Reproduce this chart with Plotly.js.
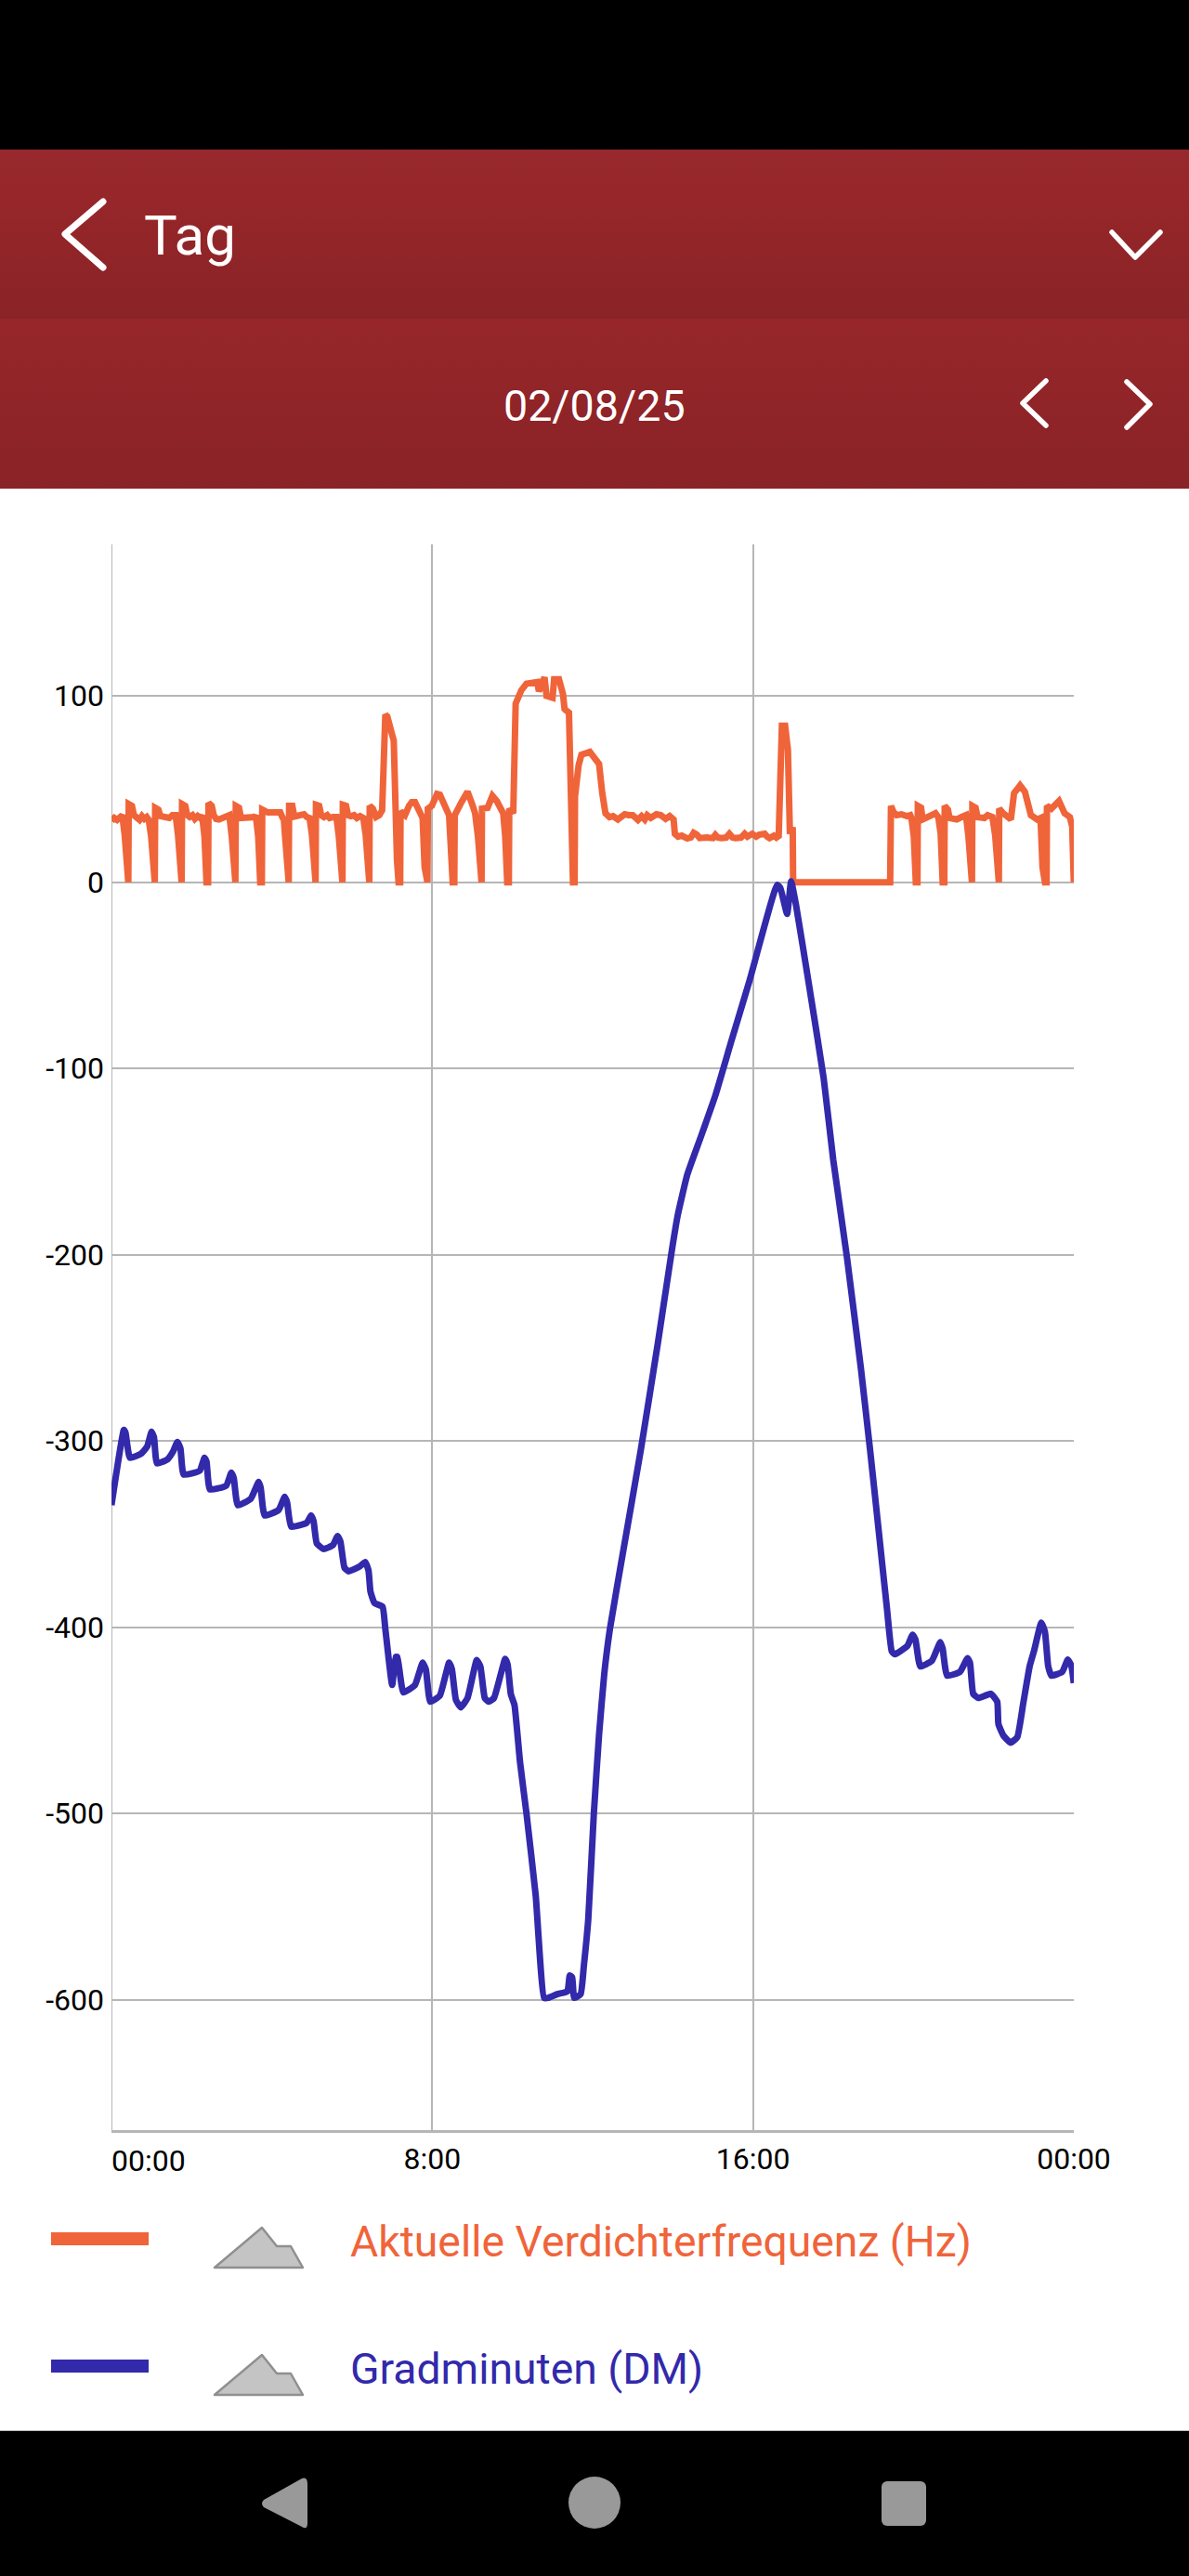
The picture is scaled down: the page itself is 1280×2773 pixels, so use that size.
<!DOCTYPE html>
<html lang="de">
<head>
<meta charset="utf-8">
<title>Tag 02/08/25</title>
<script src="https://cdn.plot.ly/plotly-3.0.1.min.js"></script>
<style>
html,body{margin:0;padding:0;background:#fff;width:1280px;height:2773px;overflow:hidden}
.abs{position:absolute;left:0;width:1280px}
#chart{position:absolute;left:0;top:0;width:1280px;height:2773px}
svg.chrome{position:absolute;left:0;top:0}
</style>
</head>
<body>
<div class="abs" style="top:0;height:161px;background:#000"></div>
<div class="abs" style="top:161px;height:182px;background:linear-gradient(#97282d,#962629 30%,#8a2327)"></div>
<div class="abs" style="top:343px;height:183px;background:linear-gradient(#962629,#8a2327)"></div>
<div class="abs" style="top:2616px;height:157px;background:#000;border-top:1px solid #bbb;box-sizing:border-box"></div>
<svg class="chrome" width="1280" height="2773" viewBox="0 0 1280 2773">
  <g fill="none" stroke="#fff" stroke-linecap="round" stroke-linejoin="round">
    <path d="M111 217 L70 252 L111 288" stroke-width="7"/>
    <path d="M1197 250 L1222 277 L1249 250" stroke-width="5.5"/>
    <path d="M1126 410 L1101 434 L1126 458" stroke-width="5.5"/>
    <path d="M1213 411 L1238 435 L1213 460" stroke-width="5.5"/>
  </g>
  <rect x="55" y="2403" width="105" height="14" fill="#f0643a"/>
  <rect x="55" y="2540" width="105" height="14" fill="#3229ab"/>
  <g fill="#c4c4c4" stroke="#8f8f8f" stroke-width="2.5" stroke-linejoin="round">
    <path d="M282 2398 L298 2418 L313 2418 L326 2441 L231 2441 Z"/>
    <path d="M282 2535 L298 2555 L313 2555 L326 2578 L231 2578 Z"/>
  </g>
  <g fill="#999">
    <path d="M325 2668 Q331 2666 331 2674 L331 2716 Q331 2724 325 2720 L284 2699 Q280 2695 284 2691 Z"/>
    <circle cx="640" cy="2694" r="28"/>
    <rect x="949" y="2671" width="48" height="48" rx="6"/>
  </g>
</svg>
<div id="chart"></div>
<script>
// Aktuelle Verdichterfrequenz (Hz)
const freqHours = [
 0,.07,.14,.2,.27,.33,.38,.42,.43,.51,.56,
 .62,.70,.76,.82,.88,.93,.99,1.04,1.08,1.09,1.17,1.22,
 1.28,1.36,1.44,1.52,1.60,1.66,1.71,1.75,1.76,1.84,1.89,
 1.95,2.02,2.08,2.15,2.21,2.26,2.32,2.37,2.41,2.42,2.50,2.55,
 2.61,2.68,2.75,2.83,2.90,2.94,3.0,3.05,3.09,3.10,3.18,3.23,
 3.30,3.40,3.50,3.57,3.60,3.66,3.71,3.75,3.76,3.84,3.90,
 4.05,4.21,4.27,4.30,4.33,4.38,4.42,4.43,4.51,4.56,
 4.64,4.72,4.80,4.87,4.94,5.0,5.05,5.09,5.10,5.18,5.23,
 5.30,5.38,5.44,5.52,5.61,5.67,5.72,5.76,5.77,5.85,5.90,
 5.97,6.05,6.12,6.20,6.28,6.34,6.39,6.43,6.44,6.52,6.6,6.68,6.75,
 6.83,6.88,6.93,6.99,7.04,7.08,7.12,7.16,7.20,7.21,7.32,7.42,7.49,7.57,7.71,7.76,7.81,7.84,7.88,7.89,7.99,8.12,8.19,8.42,8.48,8.51,8.55,8.56,8.73,8.88,9.01,9.07,9.14,9.19,9.23,9.24,9.38,9.50,9.61,9.77,9.82,9.87,9.91,9.92,10.02,
 10.08,10.15,10.22,10.35,10.62,10.66,10.80,10.85,11.0,11.04,11.16,11.26,11.30,11.41,11.46,11.51,11.55,11.56,11.65,11.72,11.93,12.05,12.16,12.24,
 12.32,12.42,12.51,12.63,12.72,12.80,12.90,13.0,13.13,13.22,13.30,13.36,13.45,13.59,13.70,13.82,13.92,14.02,14.05,14.13,14.22,14.36,14.45,14.52,14.60,14.67,14.85,15.0,15.06,15.12,15.21,15.33,15.41,15.49,15.56,15.70,15.79,15.86,15.98,16.08,16.15,16.29,16.35,16.41,16.52,16.58,16.64,
 16.72,16.80,16.87,16.92,16.99,17.0,
 19.42,19.44,19.5,19.58,19.7,19.84,19.92,19.95,20.01,20.06,20.10,20.11,20.19,20.23,20.35,20.46,20.55,20.62,20.68,20.73,20.77,20.78,20.86,20.90,21.08,21.2,21.31,
 21.37,21.42,21.46,21.47,21.55,21.6,21.77,21.85,21.97,
 22.04,22.09,22.13,22.14,22.24,22.43,22.51,22.66,22.78,22.93,23.09,23.17,
 23.22,23.28,23.32,23.33,23.44,23.63,23.77,23.90,23.96,24];
const freqHz = [
 33,34.5,33.5,35,36,25.4,0,0,42,41,36,
 35,33.5,35.5,34,35,33.5,24.5,0,0,40,39,35.5,
 35,34.5,34.5,36,36,25.4,0,0,42,41,36,
 35,36,34,35.5,34.5,36,24.5,0,0,42.5,41,36,
 34,33.7,34.5,35,36,36,24.5,0,0,41,40,34.5,
 34.5,34.5,34.5,35,36,24.5,0,0,39,38.5,37.5,
 37.5,37.5,34.5,33.7,24.5,0,0,41,41,35.3,
 35.5,36,36.5,35,34.5,25.4,0,0,41.6,41,36,
 35,36,34.5,35,35,24.5,0,0,41.6,41,36,
 35.5,36,34.5,35.5,34.5,25.4,0,0,41,39.5,35,36,38.6,
 90,89,82.6,80,76,30,12,0,0,38,36,41,43,43,36,34.5,8,0,0,39.5,41,47.4,47,36,8,0,0,36,43,48.6,41,37,24.5,0,0,39.5,40,46.4,43.6,37,24.5,0,0,39.5,37,
 95.9,99,103,106.6,107.5,102.5,110,100,99,109,109,101,93,91,26,0,0,46,62.7,68.5,70,66,63.5,47.8,
 37,35,35.5,33.7,35,36.5,36,36,33.5,35.5,33.7,36,34.5,36.5,36,34,35.5,33.7,26,24.5,25,23.5,24,26.5,25.5,23.7,24,23.7,25.4,24,23.7,24,26,24,23.7,24,26,24.5,26,24.5,25.5,26,24.5,23.7,25,24,24.9,
 84,84,71,26,29.5,0,
 0,41,37.8,36,36.5,35.5,36,34.5,24.5,0,0,41,40,33.7,35,36,37,35,26,0,0,41,39,34.5,33.7,35,36,
 25,0,0,41,40,35,34.5,36,35,
 25,0,0,39.5,37,33.7,47.8,52,48.6,36,33.7,34.5,
 8,0,0,41,39.5,43.6,37,35,30,0];
// Gradminuten (DM)
const dmHours = [0,0.31,0.35,0.46,0.73,0.89,1.0,1.06,1.135,1.39,1.54,1.645,1.72,1.80,2.2,2.32,2.37,2.455,2.86,2.99,3.05,3.15,3.475,3.67,3.72,3.82,4.17,4.32,4.38,4.48,4.865,4.98,5.04,5.12,5.29,5.52,5.64,5.71,5.81,5.91,6.18,6.33,6.41,6.46,6.56,6.76,6.83,7.0,7.09,7.13,7.28,7.57,7.76,7.84,7.95,8.19,8.42,8.49,8.59,8.71,8.88,9.11,9.2,9.31,9.41,9.54,9.82,9.88,9.96,10.05,10.19,10.35,10.58,10.79,10.89,11.12,11.37,11.43,11.49,11.54,11.70,11.78,11.89,12.03,12.16,12.29,12.43,12.78,13.2,13.63,13.98,14.12,14.36,14.71,15.06,15.45,15.91,16.6,16.68,16.85,16.95,17.07,17.38,17.76,18.0,18.34,18.69,18.92,19.15,19.34,19.46,19.54,19.85,19.98,20.05,20.17,20.46,20.67,20.73,20.84,21.16,21.35,21.41,21.49,21.62,21.93,22.09,22.12,22.24,22.42,22.59,22.74,22.9,23.01,23.19,23.28,23.36,23.44,23.71,23.85,23.94,24];
const dmValues = [-334.5,-294,-295.5,-309,-307,-303,-295,-298,-312,-310,-305.5,-300.5,-304,-318,-316,-309,-311,-326,-324,-317,-320,-334.5,-331,-322,-325,-340,-337,-330,-333,-346,-344,-340,-343,-355,-358,-356,-351,-354,-368,-370,-367.5,-365,-369.5,-381,-387,-389,-401,-431,-416,-416,-435,-431,-419,-422.6,-440,-436.7,-419,-422.6,-439,-443,-438,-417.6,-421,-438,-440,-438,-417,-420,-436,-441.7,-472.6,-500,-544,-599,-599,-597,-595.5,-587,-588,-599,-597,-582,-557,-500,-457.6,-425,-401,-357,-305,-247,-197,-179,-157,-136,-114.5,-86,-53,-1.4,-3,-17,0.5,-12,-53,-105,-149,-201,-261,-305,-351.5,-390,-413,-414.5,-410,-404,-406.6,-421,-418,-408,-411.6,-426,-424,-416.6,-419,-435.7,-438,-435.7,-440,-452,-458,-462,-459,-440.7,-420.8,-412.5,-397.5,-402.5,-420.8,-426,-424,-417.4,-420.8,-430];
const yTicks = [100,0,-100,-200,-300,-400,-500,-600];
const yTickText = ['100','0','-100','-200','-300','-400','-500','-600'];
const xTicks = [0,8,16,24];
const xTickText = ['','8:00','16:00','00:00'];
const seriesNames = ['Aktuelle Verdichterfrequenz (Hz)','Gradminuten (DM)'];
const seriesColors = ['#f0643a','#3229ab'];

const L=120,R=1156,T=585.5,B=2293;
const px=x=>(x-L)/(R-L), py=y=>(B-y)/(B-T);
const ann=(text,x,y,size,color,anchor)=>({text,x:px(x),y:py(y),xref:'paper',yref:'paper',xanchor:anchor||'left',yanchor:'middle',showarrow:false,font:{family:'Roboto',size,color}});

Plotly.newPlot('chart',[
 {x:freqHours,y:freqHz,name:seriesNames[0],mode:'lines',line:{color:seriesColors[0],width:7}},
 {x:dmHours,y:dmValues,name:seriesNames[1],mode:'lines',line:{color:seriesColors[1],width:7,shape:'spline',smoothing:0.4}}
],{
 width:1280,height:2773,showlegend:false,autosize:false,
 paper_bgcolor:'rgba(0,0,0,0)',plot_bgcolor:'rgba(0,0,0,0)',
 margin:{l:L,r:1280-R,t:T,b:2773-B,pad:0},
 font:{family:'Roboto',color:'#000'},
 xaxis:{range:[0,24],tickmode:'array',tickvals:xTicks,ticktext:xTickText,showgrid:true,gridcolor:'#b6b6b6',gridwidth:2,zeroline:false,showline:true,linecolor:'#b6b6b6',linewidth:3,ticks:'',tickfont:{family:'Roboto',size:32,color:'#000'},ticklabelstandoff:1},
 yaxis:{range:[-670,181.4],tickmode:'array',tickvals:yTicks,ticktext:yTickText,showgrid:true,gridcolor:'#b6b6b6',gridwidth:2,zeroline:false,showline:false,ticks:'',tickfont:{family:'Roboto',size:32,color:'#000'},ticklabelstandoff:7},
 shapes:[{type:'line',layer:'below',xref:'x',yref:'paper',x0:0,x1:0,y0:0,y1:1,line:{color:'#b6b6b6',width:2}}],
 annotations:[
  ann('00:00',118,2326,32,'#000'),
  ann('Tag',153,253,60,'#fff'),
  ann('02/08/25',640,436,46.6,'#fff','center'),
  ann(seriesNames[0],375,2413,46.3,seriesColors[0]),
  ann(seriesNames[1],375,2550,46.3,seriesColors[1])
 ]
},{staticPlot:true,displayModeBar:false});
</script>
</body>
</html>
